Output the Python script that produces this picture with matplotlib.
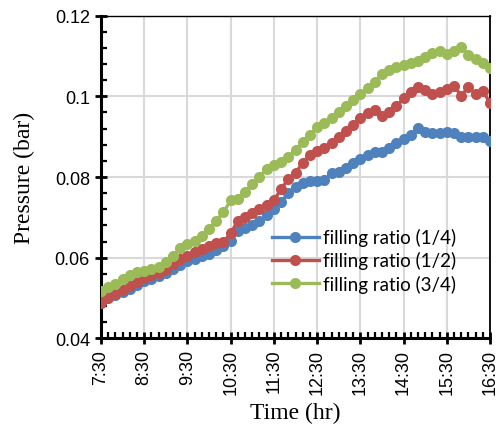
import numpy as np
import matplotlib
matplotlib.use("Agg")
import matplotlib.pyplot as plt
from matplotlib.ticker import MultipleLocator

# readings every 10 minutes from 7:30 to 16:30
hour_labels = ["7:30", "8:30", "9:30", "10:30", "11:30", "12:30",
               "13:30", "14:30", "15:30", "16:30"]

p_quarter = [0.0495, 0.0502, 0.0508, 0.0515, 0.0522, 0.0532, 0.0543, 0.0548, 0.0555, 0.0563,
             0.0573, 0.0583, 0.0593, 0.0598, 0.0604, 0.0610, 0.0620, 0.0630, 0.0642, 0.0667,
             0.0673, 0.0682, 0.0692, 0.0705, 0.0720, 0.0738, 0.0760, 0.0776, 0.0786, 0.0791,
             0.0790, 0.0792, 0.0810, 0.0813, 0.0822, 0.0835, 0.0845, 0.0855, 0.0862, 0.0863,
             0.0872, 0.0885, 0.0893, 0.0903, 0.0922, 0.0911, 0.0910, 0.0910, 0.0911, 0.0908,
             0.0900, 0.0900, 0.0900, 0.0900, 0.0888]

p_half = [0.0488, 0.0500, 0.0510, 0.0520, 0.0530, 0.0540, 0.0550, 0.0556, 0.0562, 0.0572,
          0.0585, 0.0597, 0.0605, 0.0613, 0.0622, 0.0630, 0.0636, 0.0640, 0.0660, 0.0692,
          0.0700, 0.0712, 0.0720, 0.0730, 0.0742, 0.0770, 0.0795, 0.0810, 0.0835, 0.0855,
          0.0865, 0.0872, 0.0885, 0.0900, 0.0915, 0.0930, 0.0945, 0.0958, 0.0965, 0.0952,
          0.0962, 0.0975, 0.0995, 0.1010, 0.1022, 0.1015, 0.1006, 0.1010, 0.1018, 0.1025,
          0.1002, 0.1023, 0.1006, 0.1014, 0.0983]

p_three_q = [0.0518, 0.0527, 0.0536, 0.0546, 0.0556, 0.0564, 0.0568, 0.0572, 0.0578, 0.0590,
             0.0605, 0.0624, 0.0634, 0.0642, 0.0655, 0.0671, 0.0692, 0.0713, 0.0742, 0.0746,
             0.0762, 0.0783, 0.0800, 0.0820, 0.0830, 0.0837, 0.0849, 0.0868, 0.0886, 0.0905,
             0.0924, 0.0935, 0.0945, 0.0962, 0.0977, 0.0990, 0.1006, 0.1020, 0.1035, 0.1055,
             0.1065, 0.1072, 0.1078, 0.1082, 0.1088, 0.1098, 0.1107, 0.1113, 0.1105, 0.1112,
             0.1122, 0.1102, 0.1093, 0.1083, 0.1070]

series_names = ["filling ratio (1/4)", "filling ratio (1/2)", "filling ratio (3/4)"]
colors = ["#4F81BD", "#C0504D", "#9BBB59"]

t = np.arange(len(p_quarter))  # index of 10-minute step

fig = plt.figure(figsize=(4.99, 4.35), dpi=100)
ax = fig.add_axes([0.2024, 0.2198, 0.7796, 0.742])

for vals, name, c in zip([p_quarter, p_half, p_three_q], series_names, colors):
    ax.plot(t, vals, color=c, lw=2.4, marker="o", markersize=8,
            markeredgewidth=0, label=name, zorder=3)

ax.set_xlim(0, len(t) - 1)
ax.set_ylim(0.04, 0.12)

ax.set_xticks(np.arange(0, len(t), 6))
ax.set_xticklabels(hour_labels, rotation=90, fontsize=13, family="Liberation Sans")
ax.xaxis.set_minor_locator(MultipleLocator(1))

ax.set_yticks([0.04, 0.06, 0.08, 0.10, 0.12])
ax.set_yticklabels(["0.04", "0.06", "0.08", "0.1", "0.12"], fontsize=13,
                   family="Liberation Sans")
ax.yaxis.set_minor_locator(MultipleLocator(0.004))

ax.tick_params(which="major", direction="inout", length=9, width=2)
ax.tick_params(which="minor", direction="in", length=4, width=1.6)
ax.tick_params(axis="x", which="major", pad=3)

ax.grid(True, which="major", color="#D9D9D9", lw=1.5, zorder=0)
ax.set_axisbelow(True)

ax.spines["left"].set_linewidth(2.2)
ax.spines["bottom"].set_linewidth(2.2)
ax.spines["top"].set_linewidth(1)
ax.spines["right"].set_linewidth(1.3)

ax.set_xlabel("Time (hr)", fontsize=17, family="Liberation Serif", labelpad=6)
ax.set_ylabel("Pressure (bar)", fontsize=17, family="Liberation Serif", labelpad=14)

ax.legend(loc="upper left", bbox_to_anchor=(0.42, 0.365), frameon=False,
          prop={"family": "Lato", "size": 13.5}, handlelength=2.5,
          handletextpad=0.2, labelspacing=0.28, borderaxespad=0)

fig.savefig("out.png", dpi=100)
